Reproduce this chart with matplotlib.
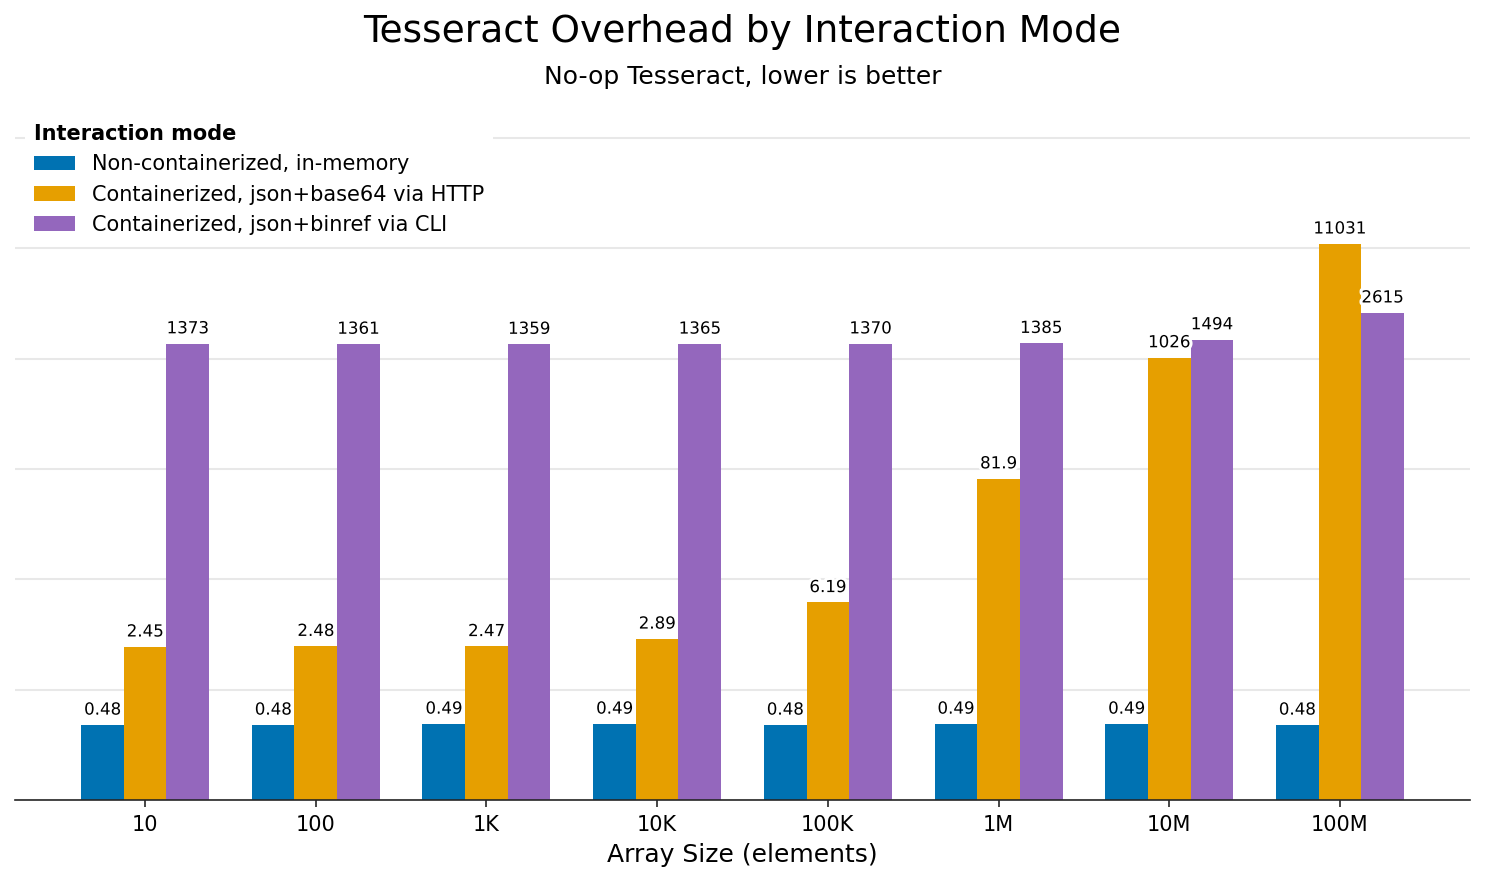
import numpy as np
import matplotlib
matplotlib.use("Agg")
import matplotlib.pyplot as plt
import matplotlib.patheffects as pe

sizes = ["10", "100", "1K", "10K", "100K", "1M", "10M", "100M"]
modes = [
    "Non-containerized, in-memory",
    "Containerized, json+base64 via HTTP",
    "Containerized, json+binref via CLI",
]
in_memory = [0.48, 0.48, 0.49, 0.49, 0.48, 0.49, 0.49, 0.48]
http_b64 = [2.45, 2.48, 2.47, 2.89, 6.19, 81.9, 1026, 11031]
cli_binref = [1373, 1361, 1359, 1365, 1370, 1385, 1494, 2615]
colors = ["#0072B2", "#E69F00", "#9467BD"]


def fmt(v):
    if v >= 1000:
        return f"{v:.0f}"
    return f"{v:.3g}"


fig = plt.figure(figsize=(9.9, 5.88), dpi=150)
ax = fig.add_axes([0.0101, 0.0930, 0.9798, 0.788])

x = np.arange(len(sizes))
width = 0.25
series = [in_memory, http_b64, cli_binref]
for i, (vals, label, c) in enumerate(zip(series, modes, colors)):
    bars = ax.bar(x + (i - 1) * width, vals, width, color=c, label=label, zorder=2)
    texts = ax.bar_label(bars, labels=[fmt(v) for v in vals], padding=3, fontsize=8)
    for t in texts:
        t.set_path_effects([pe.withStroke(linewidth=3, foreground="white")])

ax.set_yscale("log")
ax.set_ylim(0.1, 2e5)
ax.set_xticks(x)
ax.set_xticklabels(sizes, fontsize=10)
ax.set_xlabel("Array Size (elements)", fontsize=12)
ax.tick_params(axis="x", color="#262626", length=3.5)
ax.tick_params(axis="y", which="both", left=False, labelleft=False)
ax.yaxis.grid(True, which="major", color="#e8e8e8", linewidth=1, zorder=0)
ax.set_axisbelow(True)
for s in ["top", "right", "left"]:
    ax.spines[s].set_visible(False)
ax.spines["bottom"].set_color("#262626")
ax.spines["bottom"].set_zorder(3)

leg = ax.legend(loc="upper left", title="Interaction mode", fontsize=10,
                title_fontproperties={"weight": "bold", "size": 10},
                frameon=True, framealpha=1, edgecolor="none", fancybox=False)
leg._legend_box.align = "left"
leg.set_zorder(5)

fig.text(0.5, 0.9635, "Tesseract Overhead by Interaction Mode", fontsize=18,
         ha="center", va="center")
fig.text(0.5, 0.9125, "No-op Tesseract, lower is better", fontsize=12,
         ha="center", va="center")

fig.savefig("out.png", dpi=150)
